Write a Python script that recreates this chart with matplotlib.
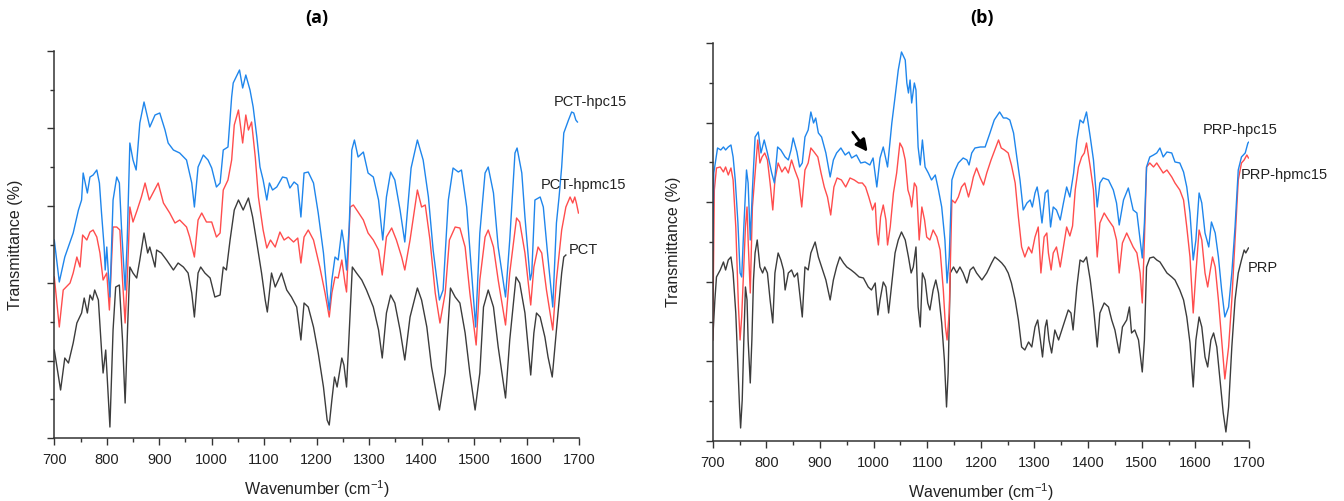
import matplotlib
matplotlib.use("Agg")
import matplotlib.pyplot as plt
from matplotlib.ticker import MultipleLocator, NullFormatter

plt.rcParams['font.family'] = ['Liberation Sans', 'DejaVu Sans']
plt.rcParams['mathtext.fontset'] = 'custom'
plt.rcParams['mathtext.rm'] = 'Liberation Sans'
plt.rcParams['mathtext.it'] = 'Liberation Sans:italic'

# ---------------- Panel (a) data: wavenumber (cm-1), transmittance (a.u.) ----------------
pct_hpc_wn = [700, 709.5, 720, 736, 746, 752, 755, 763, 768, 774, 781, 786, 790, 795, 797, 800, 803, 806, 812, 819,
              824, 828, 835, 839, 844, 850, 856, 863, 871, 882, 892, 901, 911, 917, 927, 939, 952, 962, 967, 974,
              984, 993, 1000, 1009, 1016, 1022, 1031, 1038, 1041, 1053, 1059, 1065, 1073, 1079, 1086, 1092, 1098,
              1105, 1110, 1116, 1124, 1135, 1143, 1149, 1157, 1164, 1170, 1176, 1184, 1194, 1203, 1213, 1220, 1224,
              1229, 1235, 1241, 1248, 1252, 1257, 1262, 1267, 1272, 1279, 1289, 1298, 1308, 1318, 1326, 1333, 1341,
              1349, 1359, 1368, 1380, 1392, 1403, 1413, 1422, 1434, 1441, 1451, 1460, 1470, 1476, 1486, 1495, 1503,
              1511, 1521, 1527, 1537, 1546, 1560, 1568, 1578, 1582, 1591, 1597, 1607, 1610, 1616, 1626, 1632, 1640,
              1650, 1657, 1662, 1667, 1671, 1680, 1686, 1690, 1694, 1697]
pct_hpc_t = [198, 156, 181, 205, 228, 238, 265, 245, 261, 263, 268, 255, 225, 191, 168, 191, 165, 141, 238, 261,
             255, 211, 148, 198, 295, 278, 268, 315, 336, 311, 323, 325, 308, 295, 288, 285, 278, 255, 231, 271,
             283, 278, 270, 251, 255, 288, 291, 341, 355, 368, 350, 363, 348, 331, 301, 271, 258,
             238, 255, 248, 251, 261, 260, 250, 256, 253, 221, 265, 266, 255, 225, 185, 145, 128,
             158, 181, 178, 208, 195, 168, 211, 288, 298, 281, 286, 265, 261, 238, 198, 241, 266,
             258, 228, 196, 270, 298, 278, 241, 188, 138, 148, 238, 270, 266, 268, 231, 168, 111,
             205, 265, 271, 245, 191, 141, 198, 285, 290, 265, 221, 158, 165, 238, 241, 231, 185,
             131, 215, 241, 271, 305, 318, 326, 325, 318, 316]

pct_hpmc_wn = [700, 709.5, 717, 730, 736, 743, 749, 754, 762, 768, 774, 781, 787, 793, 800, 805, 812, 819, 825, 830,
               835, 840, 844, 850, 858, 866, 873, 881, 889, 898, 908, 920, 930, 939, 952, 958, 967, 974, 981, 990,
               1000, 1009, 1016, 1022, 1031, 1038, 1043, 1051, 1059, 1065, 1070, 1076, 1083, 1089, 1098, 1105, 1112,
               1121, 1130, 1138, 1146, 1156, 1164, 1170, 1176, 1184, 1194, 1206, 1216, 1224, 1229, 1235, 1241, 1248,
               1254, 1257, 1264, 1270, 1279, 1289, 1298, 1308, 1318, 1325, 1333, 1343, 1352, 1362, 1368, 1378, 1392,
               1400, 1407, 1416, 1426, 1435, 1445, 1453, 1464, 1473, 1483, 1492, 1504, 1511, 1521, 1527, 1537, 1546,
               1560, 1568, 1581, 1587, 1597, 1608, 1614, 1622, 1629, 1638, 1650, 1657, 1667, 1675, 1683, 1688, 1692,
               1695, 1699]
pct_hpmc_t = [161, 111, 148, 155, 165, 181, 171, 203, 198, 206, 208, 201, 185, 158, 165, 128, 211, 211, 208, 158,
              115, 171, 231, 216, 228, 241, 255, 238, 246, 255, 235, 225, 215, 218, 211, 201, 181, 218, 225, 216,
              216, 201, 205, 248, 258, 278, 313, 328, 295, 323, 308, 316, 281, 241, 208, 190, 198,
              191, 206, 198, 201, 196, 200, 175, 201, 208, 198, 171, 145, 121, 145, 161, 160, 178,
              155, 146, 231, 233, 226, 218, 205, 198, 188, 163, 201, 210, 198, 181, 168, 198, 248,
              231, 233, 198, 145, 115, 145, 198, 211, 210, 191, 145, 93, 158, 201, 208, 191, 158,
              113, 165, 220, 216, 185, 133, 171, 191, 185, 148, 108, 158, 208, 231, 241, 235, 241,
              235, 225]

pct_wn = [700, 712, 720, 727, 736, 743, 752, 757, 763, 768, 773, 777, 784, 790, 793, 798, 806, 812, 817, 824,
          830, 835, 840, 844, 850, 857, 863, 871, 878, 882, 892, 895, 904, 914, 927, 936, 946, 955, 962, 967,
          974, 979, 987, 997, 1006, 1016, 1022, 1028, 1035, 1043, 1051, 1060, 1070, 1078, 1086, 1095, 1102, 1106,
          1114, 1121, 1133, 1143, 1152, 1162, 1170, 1176, 1184, 1194, 1203, 1213, 1220, 1224, 1229, 1234, 1239,
          1248, 1252, 1257, 1262, 1268, 1276, 1286, 1295, 1308, 1318, 1325, 1333, 1341, 1349, 1359, 1368, 1378,
          1392, 1400, 1410, 1419, 1434, 1445, 1455, 1464, 1473, 1483, 1492, 1502, 1511, 1518, 1527, 1537, 1546,
          1560, 1568, 1580, 1587, 1597, 1608, 1614, 1619, 1626, 1635, 1641, 1649, 1657, 1667, 1671, 1675]
pct_t = [88, 48, 80, 75, 95, 115, 125, 140, 125, 143, 138, 148, 138, 88, 65, 88, 11, 108, 151, 153,
         98, 35, 115, 171, 165, 160, 178, 205, 185, 191, 171, 188, 185, 178, 168, 175, 171, 165, 145, 121,
         165, 171, 165, 160, 141, 143, 171, 168, 198, 228, 238, 228, 240, 221, 195, 165, 138, 126,
         165, 151, 165, 148, 141, 131, 98, 135, 131, 111, 85, 51, 18, 13, 38, 61, 51,
         80, 73, 51, 105, 171, 165, 158, 148, 131, 108, 80, 125, 143, 135, 108, 78, 121,
         150, 138, 111, 71, 28, 65, 150, 141, 135, 105, 65, 28, 65, 131, 148, 131, 91,
         40, 98, 161, 155, 125, 63, 105, 125, 121, 101, 81, 61, 108, 165, 181, 183]

# ---------------- Panel (b) data ----------------
prp_hpc_wn = [700, 702, 709, 715, 720, 724, 729, 734, 738, 742, 747, 751, 754, 758, 763, 766, 770, 774, 779, 785,
              790, 796, 802, 810, 815, 821, 827, 835, 841, 846, 850, 857, 862, 867, 872, 878, 883, 888, 892, 897,
              903, 911, 919, 925, 931, 939, 947, 954, 959, 968, 976, 984, 993, 999, 1006, 1012, 1018, 1026, 1034,
              1040, 1046, 1052, 1059, 1062, 1065, 1068, 1071, 1076, 1079, 1083, 1087, 1091, 1096, 1102, 1108, 1115,
              1121, 1127, 1133, 1137, 1141, 1146, 1152, 1158, 1167, 1174, 1178, 1183, 1189, 1199, 1208, 1217, 1225,
              1235, 1242, 1248, 1254, 1261, 1267, 1273, 1279, 1286, 1292, 1296, 1301, 1305, 1309, 1314, 1320, 1325,
              1330, 1335, 1341, 1348, 1354, 1360, 1366, 1373, 1379, 1385, 1391, 1397, 1404, 1410, 1417, 1422, 1428,
              1438, 1447, 1453, 1458, 1466, 1475, 1480, 1484, 1491, 1497, 1501, 1505, 1509, 1515, 1522, 1528, 1534,
              1540, 1547, 1556, 1562, 1571, 1578, 1584, 1590, 1596, 1601, 1607, 1612, 1618, 1625, 1630, 1637, 1643,
              1649, 1655, 1662, 1668, 1674, 1680, 1686, 1693, 1698, 1700]
prp_hpc_t = [191, 268, 293, 291, 294, 291, 294, 296, 284, 261, 218, 168, 164, 214, 271, 258, 201, 251, 304, 309,
             288, 301, 288, 268, 258, 294, 291, 284, 281, 291, 303, 289, 274, 278, 304, 311, 329, 318, 323, 308,
             304, 288, 264, 281, 288, 293, 286, 289, 283, 286, 278, 279, 276, 283, 254, 283, 294, 274, 318,
             344, 371, 389, 381, 358, 348, 361, 338, 358, 351, 294, 276, 301, 274, 268, 261, 266,
             251, 234, 201, 158, 184, 261, 271, 278, 283, 281, 276, 288, 293, 294, 294, 308, 321,
             329, 323, 323, 321, 308, 284, 261, 231, 238, 241, 234, 248, 254, 241, 218, 248, 251,
             214, 234, 231, 221, 238, 254, 244, 268, 301, 321, 318, 329, 304, 281, 234, 258, 263,
             261, 251, 238, 216, 241, 253, 241, 231, 228, 201, 183, 218, 274, 284, 286, 288, 293,
             284, 289, 288, 279, 278, 269, 254, 228, 181, 201, 248, 238, 208, 194, 219, 208, 184,
             151, 124, 134, 168, 214, 271, 284, 288, 298, 299]

prp_hpmc_wn = [700, 703, 707, 714, 720, 724, 729, 734, 738, 743, 748, 751, 754, 758, 761, 764, 766, 770, 774, 779,
               784, 788, 792, 797, 802, 807, 812, 816, 822, 829, 835, 841, 847, 853, 860, 866, 872, 878, 883, 889,
               896, 902, 908, 914, 920, 926, 932, 940, 948, 956, 964, 972, 979, 985, 991, 998, 1003, 1006, 1009,
               1013, 1018, 1023, 1026, 1031, 1037, 1043, 1049, 1054, 1059, 1064, 1068, 1071, 1076, 1080, 1085, 1090,
               1095, 1099, 1105, 1111, 1118, 1124, 1130, 1134, 1137, 1141, 1146, 1152, 1158, 1164, 1170, 1177, 1182,
               1186, 1192, 1199, 1205, 1211, 1219, 1226, 1233, 1238, 1244, 1251, 1257, 1264, 1270, 1276, 1282, 1289,
               1295, 1301, 1307, 1312, 1318, 1323, 1326, 1331, 1335, 1341, 1348, 1354, 1360, 1366, 1371, 1376, 1382,
               1388, 1393, 1397, 1404, 1410, 1417, 1422, 1430, 1438, 1447, 1453, 1458, 1464, 1472, 1478, 1484, 1491,
               1497, 1501, 1505, 1509, 1515, 1522, 1528, 1534, 1540, 1547, 1556, 1562, 1571, 1578, 1584, 1590, 1596,
               1601, 1607, 1612, 1618, 1623, 1627, 1632, 1637, 1643, 1649, 1655, 1662, 1668, 1674, 1680, 1686, 1691,
               1696, 1699]
prp_hpmc_t = [101, 251, 273, 274, 269, 274, 266, 273, 261, 214, 134, 101, 124, 174, 214, 234, 201, 148, 234, 268,
              301, 278, 284, 288, 281, 258, 231, 261, 278, 269, 274, 268, 281, 271, 261, 234, 271, 278, 293, 289,
              284, 268, 254, 244, 226, 254, 263, 261, 254, 263, 261, 258, 258, 254, 244, 231, 238, 208, 196,
              224, 236, 221, 196, 214, 248, 268, 298, 293, 281, 251, 244, 234, 258, 254, 201, 234,
              221, 204, 201, 211, 204, 191, 151, 114, 101, 128, 241, 238, 244, 254, 258, 244, 254,
              264, 273, 263, 256, 268, 281, 291, 301, 293, 291, 288, 276, 258, 224, 194, 184, 194,
              188, 204, 214, 168, 204, 208, 188, 171, 188, 194, 174, 194, 214, 205, 215, 251, 274,
              284, 288, 298, 274, 251, 184, 218, 228, 221, 214, 201, 168, 198, 208, 201, 194, 188,
              168, 138, 201, 274, 278, 274, 278, 273, 268, 271, 264, 258, 251, 241, 214, 184, 128,
              168, 211, 201, 168, 154, 168, 184, 174, 141, 101, 62, 94, 141, 201, 261, 278, 281,
              286, 283]

prp_wn = [700, 704, 707, 714, 720, 724, 729, 734, 738, 743, 747, 750, 752, 755, 758, 761, 764, 766, 770, 773,
          776, 779, 783, 788, 793, 797, 802, 807, 812, 816, 822, 827, 832, 835, 841, 847, 852, 858, 865, 867,
          872, 878, 883, 891, 897, 903, 911, 919, 925, 931, 937, 944, 950, 958, 965, 973, 981, 990, 996, 1003,
          1008, 1012, 1018, 1023, 1028, 1034, 1040, 1046, 1052, 1059, 1065, 1070, 1074, 1079, 1083, 1087, 1091,
          1096, 1101, 1105, 1111, 1116, 1121, 1127, 1132, 1136, 1139, 1143, 1149, 1155, 1161, 1167, 1174, 1180,
          1186, 1192, 1202, 1211, 1220, 1226, 1233, 1239, 1245, 1251, 1257, 1264, 1270, 1276, 1282, 1289, 1295,
          1301, 1306, 1311, 1315, 1320, 1323, 1327, 1332, 1338, 1345, 1351, 1357, 1363, 1368, 1372, 1379, 1385,
          1391, 1397, 1404, 1410, 1417, 1422, 1430, 1438, 1444, 1450, 1458, 1464, 1472, 1477, 1481, 1487, 1494,
          1501, 1505, 1509, 1515, 1522, 1528, 1534, 1540, 1547, 1556, 1562, 1571, 1578, 1584, 1590, 1596, 1601,
          1607, 1612, 1618, 1623, 1629, 1634, 1640, 1646, 1652, 1657, 1662, 1668, 1674, 1680, 1686, 1691, 1694,
          1699]
prp_t = [101, 141, 164, 171, 179, 171, 181, 184, 168, 128, 74, 34, 13, 41, 101, 154, 141, 101, 58, 101,
         161, 188, 201, 174, 168, 174, 168, 141, 118, 168, 188, 181, 171, 151, 168, 171, 164, 168, 134, 124,
         174, 171, 188, 199, 184, 174, 161, 141, 161, 174, 184, 178, 174, 171, 168, 164, 163, 154, 151, 158,
         126, 141, 159, 154, 128, 158, 188, 201, 209, 201, 184, 168, 174, 194, 134, 114, 168,
         161, 138, 131, 151, 161, 148, 118, 81, 34, 68, 168, 174, 168, 174, 168, 158, 171,
         174, 168, 161, 168, 178, 184, 181, 178, 174, 168, 158, 141, 121, 94, 91, 99, 94,
         114, 121, 101, 84, 114, 121, 101, 88, 111, 101, 111, 121, 131, 128, 111, 154, 181,
         179, 184, 161, 134, 94, 128, 138, 134, 121, 111, 88, 114, 121, 134, 108, 111, 101,
         69, 101, 174, 183, 184, 181, 179, 174, 168, 164, 161, 151, 141, 124, 98, 54, 101,
         124, 114, 84, 74, 101, 108, 94, 61, 28, 9, 34, 94, 141, 168, 181, 191, 188,
         193]

x_ticks = [700, 800, 900, 1000, 1100, 1200, 1300, 1400, 1500, 1600, 1700]

BLUE = '#1f86ec'
RED = '#ff4d4d'
BLACK = '#3c3c3c'
AXC = '#333333'

fig = plt.figure(figsize=(13.44, 5.01), dpi=100)
ax_a = fig.add_axes([0.0404, 0.1257, 0.3904, 0.7725])
ax_b = fig.add_axes([0.5303, 0.1198, 0.3990, 0.7944])


def style(ax, ymax):
    ax.set_xlim(700, 1700)
    ax.set_ylim(0, ymax)
    for s in ('top', 'right'):
        ax.spines[s].set_visible(False)
    for s in ('left', 'bottom'):
        ax.spines[s].set_color(AXC)
        ax.spines[s].set_linewidth(1.1)
    ax.set_xticks(x_ticks)
    ax.xaxis.set_minor_locator(MultipleLocator(50))
    ax.yaxis.set_major_locator(MultipleLocator(ymax / 5))
    ax.yaxis.set_minor_locator(MultipleLocator(ymax / 10))
    ax.yaxis.set_major_formatter(NullFormatter())
    ax.tick_params(axis='both', which='major', direction='out', length=5, width=1, color=AXC,
                   labelsize=10.5, labelcolor='#222222')
    ax.tick_params(axis='both', which='minor', direction='out', length=3, width=1, color=AXC)
    ax.tick_params(axis='x', pad=6)
    ax.set_xlabel(r'Wavenumber (cm$^{\mathregular{-1}}$)', fontsize=11.5, color='#222222', labelpad=8)
    ax.set_ylabel('Transmittance (%)', fontsize=11.5, color='#222222', labelpad=14)


style(ax_a, 387)
style(ax_b, 398)

lw = 1.0
ax_a.plot(pct_wn, pct_t, color=BLACK, lw=lw)
ax_a.plot(pct_hpmc_wn, pct_hpmc_t, color=RED, lw=lw)
ax_a.plot(pct_hpc_wn, pct_hpc_t, color=BLUE, lw=lw)

ax_b.plot(prp_wn, prp_t, color=BLACK, lw=lw)
ax_b.plot(prp_hpmc_wn, prp_hpmc_t, color=RED, lw=lw)
ax_b.plot(prp_hpc_wn, prp_hpc_t, color=BLUE, lw=lw)

lab = dict(fontsize=10.5, color='#222222', ha='left', va='center', clip_on=False)
ax_a.text(1652, 336, 'PCT-hpc15', **lab)
ax_a.text(1628, 253, 'PCT-hpmc15', **lab)
ax_a.text(1681, 188, 'PCT', **lab)

ax_b.text(1614, 311, 'PRP-hpc15', **lab)
ax_b.text(1684, 266, 'PRP-hpmc15', **lab)
ax_b.text(1698, 173, 'PRP', **lab)

ax_b.annotate('', xy=(992, 287), xytext=(958, 311),
              arrowprops=dict(arrowstyle='-|>,head_length=0.7,head_width=0.35', color='black', lw=2))

fig.text(317 / 1344, 1 - 18 / 501, '(a)', ha='center', va='center', fontsize=13,
         fontweight='bold', family=['Open Sans', 'DejaVu Sans'])
fig.text(982 / 1344, 1 - 18 / 501, '(b)', ha='center', va='center', fontsize=13,
         fontweight='bold', family=['Open Sans', 'DejaVu Sans'])

fig.savefig('out.png', dpi=100)
